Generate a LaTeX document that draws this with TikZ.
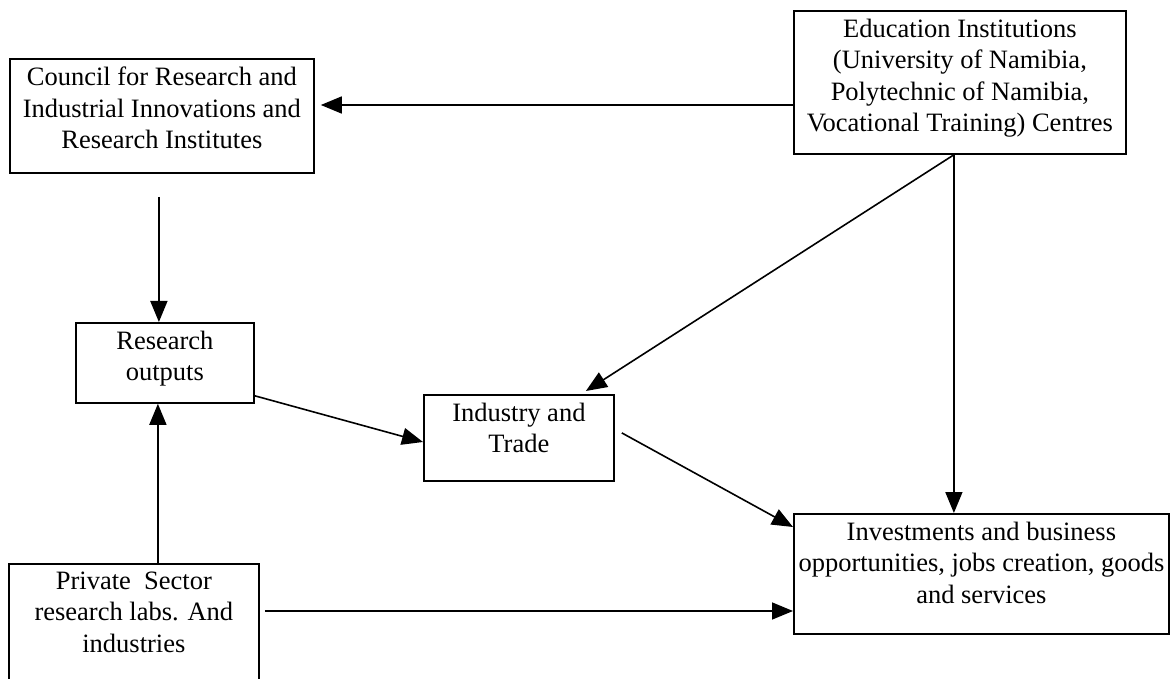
\documentclass[tikz,border=0pt]{standalone}
\usepackage{fontspec}
\setmainfont{Liberation Serif}
\usetikzlibrary{arrows.meta}
\begin{document}
\begin{tikzpicture}[x=1pt,y=-1pt,
  box/.style={draw, line width=1.8pt, inner sep=0pt, anchor=north west, rectangle},
  lbl/.style={anchor=north, align=center, inner sep=0pt, yshift=-8.7pt,
    font=\fontsize{26.5}{31.5}\selectfont},
  arr/.style={line width=1.6pt, -{Triangle[length=21pt,width=17pt]}}]
\useasboundingbox (0,0) rectangle (1171,679);
\clip (0,0) rectangle (1171,679);

% boxes
\node[box, minimum width=304pt, minimum height=114pt] (council) at (9,58) {};
\node[box, minimum width=332pt, minimum height=143pt] (edu) at (793,10) {};
\node[box, minimum width=178pt, minimum height=80pt] (ro) at (75,322) {};
\node[box, minimum width=190pt, minimum height=86pt] (ind) at (423,394) {};
\node[box, minimum width=375pt, minimum height=120pt] (inv) at (793,513) {};
\node[box, minimum width=250pt, minimum height=127pt] (priv) at (8,563) {};

% box texts
\node[lbl] (councilT) at (council.north) {Council for Research and\\Industrial Innovations and\\Research Institutes};
\node[lbl] (eduT) at (edu.north) {Education Institutions\\(University of Namibia,\\Polytechnic of Namibia,\\Vocational Training) Centres};
\node[lbl] (roT) at (ro.north) {Research\\outputs};
\node[lbl] (indT) at (ind.north) {Industry and\\Trade};
\node[lbl] (invT) at (inv.north) {Investments and business\\opportunities, jobs creation, goods\\and services};
\node[lbl] (privT) at (priv.north) {Private~ Sector\\research labs. And\\industries};

% connectors
\draw[arr] ([yshift=-95pt]edu.north west) -- ([xshift=6pt,yshift=-47pt]council.north east);
\draw[arr] ([xshift=-3pt,yshift=-23pt]council.south) -- ([xshift=-6pt]ro.north);
\draw[arr] ([xshift=24pt]priv.north) -- ([xshift=-7pt]ro.south);
\draw[arr] ([yshift=8pt]ro.south east) -- ([yshift=-48pt]ind.north west);
\draw[arr] ([xshift=-6pt]edu.south) -- ([xshift=67pt,yshift=3pt]ind.north);
\draw[arr] ([xshift=-6pt]edu.south) -- ([xshift=-27.5pt]inv.north);
\draw[arr] ([xshift=7pt,yshift=5pt]ind.east) -- ([yshift=-14pt]inv.north west);
\draw[arr] ([xshift=5pt,yshift=-48pt]priv.north east) -- ([yshift=-98pt]inv.north west);
\end{tikzpicture}
\end{document}
